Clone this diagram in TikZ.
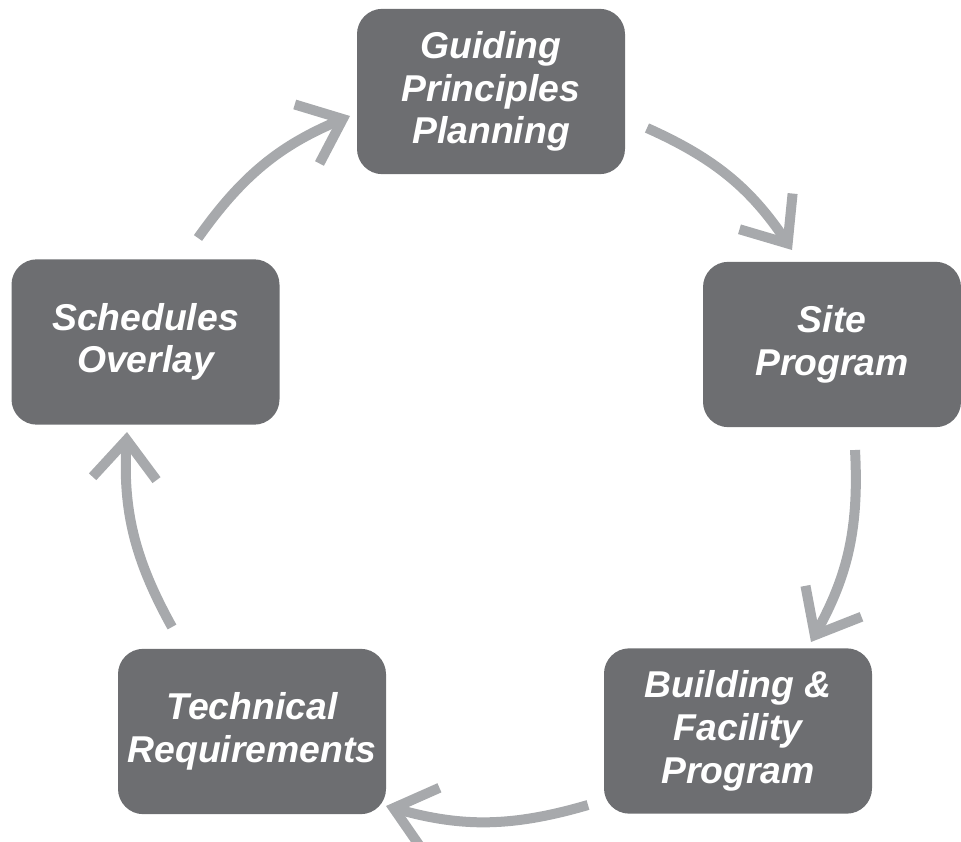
\documentclass[tikz,border=0pt]{standalone}
\usepackage{fontspec}
\setsansfont{Liberation Sans}
\usetikzlibrary{arrows.meta}

\definecolor{stagegray}{RGB}{109,110,113}
\definecolor{loopgray}{RGB}{167,169,172}

\tikzset{
	stage/.style={draw=none, fill=stagegray, rounded corners=19pt,
		minimum width=201pt, minimum height=124pt, inner sep=0pt,
		align=center, text=white,
		font=\sffamily\bfseries\itshape\fontsize{28}{32}\selectfont},
	loop arrow/.style={draw=loopgray, line width=7.5pt,
		-{Straight Barb[length=29pt,width=48pt]}, bend right=16}}

\begin{document}
\begin{tikzpicture}[x=0.75pt,y=0.75pt,yscale=-1,xscale=1]
	\useasboundingbox (0,0) rectangle (961,842);

	% Stages
	\node [stage] (guide) at (491,91.5) {Guiding\\Principles\\Planning};
	\node [stage, minimum width=193.5pt] (site) at (832,344.5) {Site\\Program};
	\node [stage] (build) at (738,731) {Building \&\\Facility\\Program};
	\node [stage] (tech) at (252,731.5) {Technical\\Requirements};
	\node [stage] (sched) at (145.5,342) {Schedules\\Overlay};

	% Arrow ends
	\coordinate (s1) at (198,238);   \coordinate (e1) at (350,116);
	\coordinate (s2) at (647,128);   \coordinate (e2) at (792,250);
	\coordinate (s3) at (855,450);   \coordinate (e3) at (811,642);
	\coordinate (s4) at (588,805);   \coordinate (e4) at (386,806);
	\coordinate (s5) at (172,627);   \coordinate (e5) at (127,432);

	% Cycle arrows
	\draw [loop arrow] (s1) to (e1);
	\draw [loop arrow] (s2) to (e2);
	\draw [loop arrow] (s3) to (e3);
	\draw [loop arrow] (s4) to (e4);
	\draw [loop arrow] (s5) to (e5);

\end{tikzpicture}
\end{document}
